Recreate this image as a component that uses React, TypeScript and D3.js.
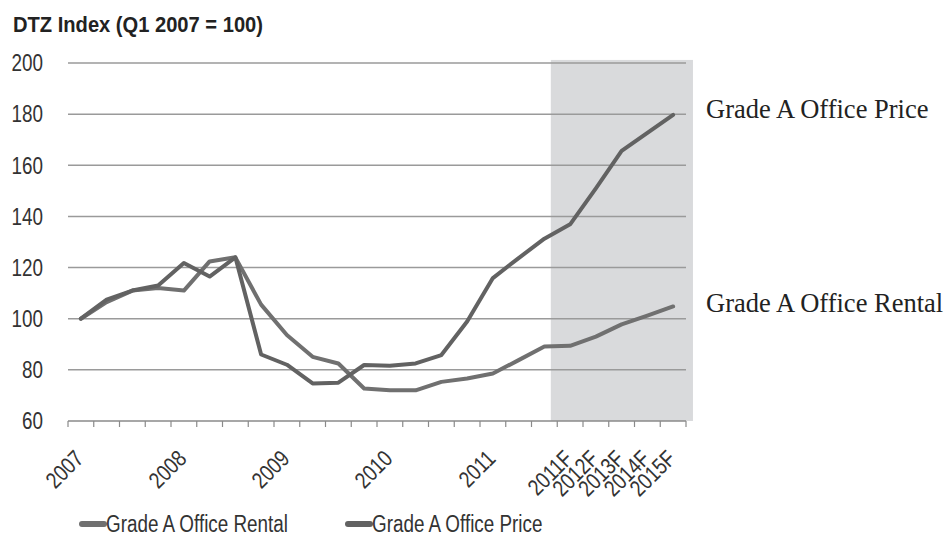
import React from 'react';
import * as d3 from 'd3';

const width = 951;
const height = 544;
const margin = { top: 63, right: 265, bottom: 124, left: 68 };

const categories = [
  '2007Q1', '2007Q2', '2007Q3', '2007Q4',
  '2008Q1', '2008Q2', '2008Q3', '2008Q4',
  '2009Q1', '2009Q2', '2009Q3', '2009Q4',
  '2010Q1', '2010Q2', '2010Q3', '2010Q4',
  '2011Q1', '2011Q2', '2011Q3',
  '2011F', '2012F', '2013F', '2014F', '2015F',
];
const tickLabels = [
  '2007', '', '', '',
  '2008', '', '', '',
  '2009', '', '', '',
  '2010', '', '', '',
  '2011', '', '',
  '2011F', '2012F', '2013F', '2014F', '2015F',
];
const rental = [
  100, 106.5, 111, 112, 111, 122.4, 124, 105.5, 93.6, 85.1, 82.5, 72.7,
  72, 72, 75.3, 76.6, 78.6, 83.8, 89.1, 89.4, 93, 97.8, 101.2, 104.8,
];
const price = [
  100, 107.5, 111, 113, 121.8, 116.5, 124, 86, 82, 74.7, 75, 81.9,
  81.6, 82.5, 85.8, 98.9, 115.9, 123.7, 131.3, 136.9, 151, 165.6, 172.7, 179.7,
];
const yTicks = [60, 80, 100, 120, 140, 160, 180, 200];
const forecastStart = '2011F';

// no narrow face installed, so squeeze Liberation Sans horizontally
const sans = "'Liberation Sans', Arial, sans-serif";
const serif = "'Liberation Serif', 'Times New Roman', serif";
const squeeze = 0.82;

const rentalColor = '#707070';
const priceColor = '#626262';

export default function App() {
  const x = d3.scaleBand<string>()
    .domain(categories)
    .range([margin.left, width - margin.right]);
  const y = d3.scaleLinear()
    .domain([60, 200])
    .range([height - margin.bottom + 1, margin.top]);

  const bw = x.bandwidth();
  const cx = (c: string) => (x(c) ?? 0) + bw / 2;

  const line = d3.line<number>()
    .x((_, i) => cx(categories[i]))
    .y(d => y(d));

  const shadeX0 = (x(forecastStart) ?? 0) - bw * 0.25;
  const shadeX1 = x.range()[1] + bw * 0.27;
  const axisY = y(60);

  return (
    <svg width={width} height={height} style={{ position: 'absolute', left: 0, top: 0, background: '#fff' }}>
      <text transform="translate(13,32) scale(0.915,1)" fontFamily={sans} fontWeight="bold" fontSize={22} fill="#222">
        DTZ Index (Q1 2007 = 100)
      </text>

      {/* forecast shading */}
      <rect x={shadeX0} y={y(201.2)} width={shadeX1 - shadeX0} height={axisY - y(201.2)} fill="#d9dadc" />

      {/* gridlines + y labels */}
      {yTicks.map(t => (
        <g key={t}>
          {t > 60 && (
            <line x1={x.range()[0]} x2={x.range()[1]} y1={y(t)} y2={y(t)} stroke="#9a9a9a" strokeWidth={1.5} />
          )}
          <text transform={`translate(43,${y(t)}) scale(${squeeze},1)`} dy="0.36em" textAnchor="end" fontFamily={sans} fontSize={23} fill="#333">
            {t}
          </text>
        </g>
      ))}

      {/* x axis */}
      <line x1={x.range()[0]} x2={x.range()[1]} y1={axisY} y2={axisY} stroke="#8a8a8a" strokeWidth={1.5} />
      {categories.map(c => (
        <line key={'t' + c} x1={x(c)} x2={x(c)} y1={axisY} y2={axisY + 6} stroke="#8a8a8a" strokeWidth={1.2} />
      ))}
      <line x1={x.range()[1]} x2={x.range()[1]} y1={axisY} y2={axisY + 6} stroke="#8a8a8a" strokeWidth={1.2} />
      {categories.map((c, i) => tickLabels[i] && (
        <text
          key={'l' + c}
          transform={`translate(${cx(c) + 4},${axisY + 39}) rotate(-45) scale(${squeeze},1)`}
          textAnchor="end"
          fontFamily={sans}
          fontSize={23}
          fill="#333"
        >
          {tickLabels[i]}
        </text>
      ))}

      {/* series */}
      <path d={line(rental) ?? ''} fill="none" stroke={rentalColor} strokeWidth={4} strokeLinejoin="round" strokeLinecap="round" />
      <path d={line(price) ?? ''} fill="none" stroke={priceColor} strokeWidth={4} strokeLinejoin="round" strokeLinecap="round" />

      {/* right-hand labels */}
      <text x={706} y={118} fontFamily={serif} fontSize={26.5} fill="#222">Grade A Office Price</text>
      <text x={706} y={312} fontFamily={serif} fontSize={26.5} fill="#222">Grade A Office Rental</text>

      {/* legend */}
      <line x1={82} x2={104} y1={524} y2={524} stroke={rentalColor} strokeWidth={6} strokeLinecap="round" />
      <text transform={`translate(106,532) scale(${squeeze},1)`} fontFamily={sans} fontSize={23} fill="#333">Grade A Office Rental</text>
      <line x1={348} x2={370} y1={524} y2={524} stroke={priceColor} strokeWidth={6} strokeLinecap="round" />
      <text transform={`translate(372,532) scale(${squeeze},1)`} fontFamily={sans} fontSize={23} fill="#333">Grade A Office Price</text>
    </svg>
  );
}
